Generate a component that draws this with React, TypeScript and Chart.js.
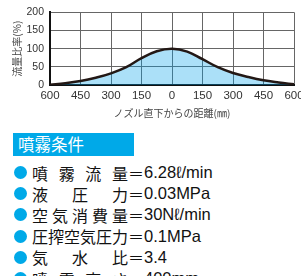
import React, { useEffect, useRef } from 'react';
import { Chart, registerables } from 'chart.js';

Chart.register(...registerables);

// Distance from directly under the nozzle (mm)
const distances = [-600, -525, -450, -375, -300, -225, -150, -75, 0, 75, 150, 225, 300, 375, 450, 525, 600];
// Flow ratio (%)
const flowRatio = [1, 5, 11, 20, 32, 49, 74, 93, 100, 92, 71, 49, 33, 22, 13, 7, 2];
const xTickValues = [-600, -450, -300, -150, 0, 150, 300, 450, 600];
const yTickValues = [0, 50, 100, 150, 200];

const yTitle = '流量比率(%)';
const xTitle = 'ノズル直下からの距離(㎜)';
const sectionTitle = '噴霧条件';
const condLabels = ['噴霧流量', '液圧力', '空気消費量', '圧搾空気圧力', '気水比', '噴霧高さ'];
const condValues = ['6.28ℓ/min', '0.03MPa', '30Nℓ/min', '0.1MPa', '3.4', '400mm'];

const BLUE = '#00a9e8';

export default function App() {
  const ref = useRef<HTMLCanvasElement | null>(null);

  useEffect(() => {
    if (!ref.current) return;
    const chart = new Chart(ref.current, {
      type: 'line',
      data: {
        datasets: [
          {
            data: distances.map((d, i) => ({ x: d, y: flowRatio[i] })),
            borderColor: '#231815',
            borderWidth: 2.5,
            backgroundColor: 'rgba(0,160,233,0.33)',
            fill: 'origin',
            tension: 0.4,
            pointRadius: 0,
          },
        ],
      },
      options: {
        animation: false,
        responsive: false,
        layout: { padding: { left: 0, right: 7, top: 10, bottom: 0 } },
        plugins: { legend: { display: false }, tooltip: { enabled: false } },
        scales: {
          x: {
            type: 'linear',
            min: -600,
            max: 600,
            afterBuildTicks: (s: any) => {
              s.ticks = xTickValues.map((v) => ({ value: v }));
            },
            afterFit: (s: any) => {
              s.height = 37;
              s.paddingLeft = 0;
              s.paddingRight = 0;
            },
            ticks: {
              autoSkip: false,
              maxRotation: 0,
              padding: 4,
              color: '#333',
              font: { family: 'Liberation Sans, Arial, sans-serif', size: 11.5 },
              callback: (v: any) => String(Math.abs(Number(v))),
            },
            grid: { color: '#666', lineWidth: 1, drawTicks: false },
            border: { color: '#111', width: 2 },
            title: {
              display: true,
              text: xTitle,
              color: '#444',
              font: { family: 'Noto Sans CJK JP, sans-serif', size: 10 },
              padding: { top: 0, bottom: 3 },
            },
          },
          y: {
            min: 0,
            max: 200,
            afterBuildTicks: (s: any) => {
              s.ticks = yTickValues.map((v) => ({ value: v }));
            },
            afterFit: (s: any) => {
              s.width = 50;
            },
            ticks: {
              padding: 6,
              color: '#333',
              font: { family: 'Liberation Sans, Arial, sans-serif', size: 10.5 },
            },
            grid: { color: '#666', lineWidth: 1, drawTicks: false },
            border: { color: '#111', width: 2 },
            title: {
              display: true,
              text: yTitle,
              color: '#444',
              font: { family: 'Noto Sans CJK JP, sans-serif', size: 10 },
              padding: { top: 11, bottom: 0 },
            },
          },
        },
      },
    });
    return () => chart.destroy();
  }, []);

  return (
    <div
      style={{
        position: 'fixed',
        left: 0,
        top: 0,
        width: 301,
        height: 276,
        overflow: 'hidden',
        background: '#fff',
        fontFamily: 'Liberation Sans, Arial, "Noto Sans CJK JP", sans-serif',
      }}
    >
      <canvas ref={ref} width={301} height={122} style={{ position: 'absolute', left: 0, top: 0 }} />
      <div
        style={{
          position: 'absolute',
          left: 13,
          top: 133,
          width: 116,
          height: 23,
          paddingLeft: 5,
          background: BLUE,
          color: '#fff',
          fontSize: 16.5,
          lineHeight: '23px',
          fontFamily: '"Noto Sans CJK JP", sans-serif',
        }}
      >
        {sectionTitle}
      </div>
      <div style={{ position: 'absolute', left: 14, top: 162 }}>
        {condLabels.map((lab, i) => (
          <div key={i} style={{ height: 21.2, display: 'flex', alignItems: 'center', fontSize: 16, color: '#111' }}>
            <span
              style={{
                width: 13,
                height: 13,
                borderRadius: '50%',
                background: BLUE,
                marginRight: 5,
                flex: 'none',
              }}
            />
            <span
              style={{
                width: 96,
                display: 'flex',
                justifyContent: 'space-between',
                fontFamily: '"Noto Sans CJK JP", sans-serif',
                flex: 'none',
              }}
            >
              {Array.from(lab).map((c, j) => (
                <span key={j}>{c}</span>
              ))}
            </span>
            <span style={{ fontFamily: '"Noto Sans CJK JP", sans-serif' }}>＝</span>
            <span style={{ whiteSpace: 'nowrap', fontSize: 16.5 }}>{condValues[i]}</span>
          </div>
        ))}
      </div>
    </div>
  );
}
